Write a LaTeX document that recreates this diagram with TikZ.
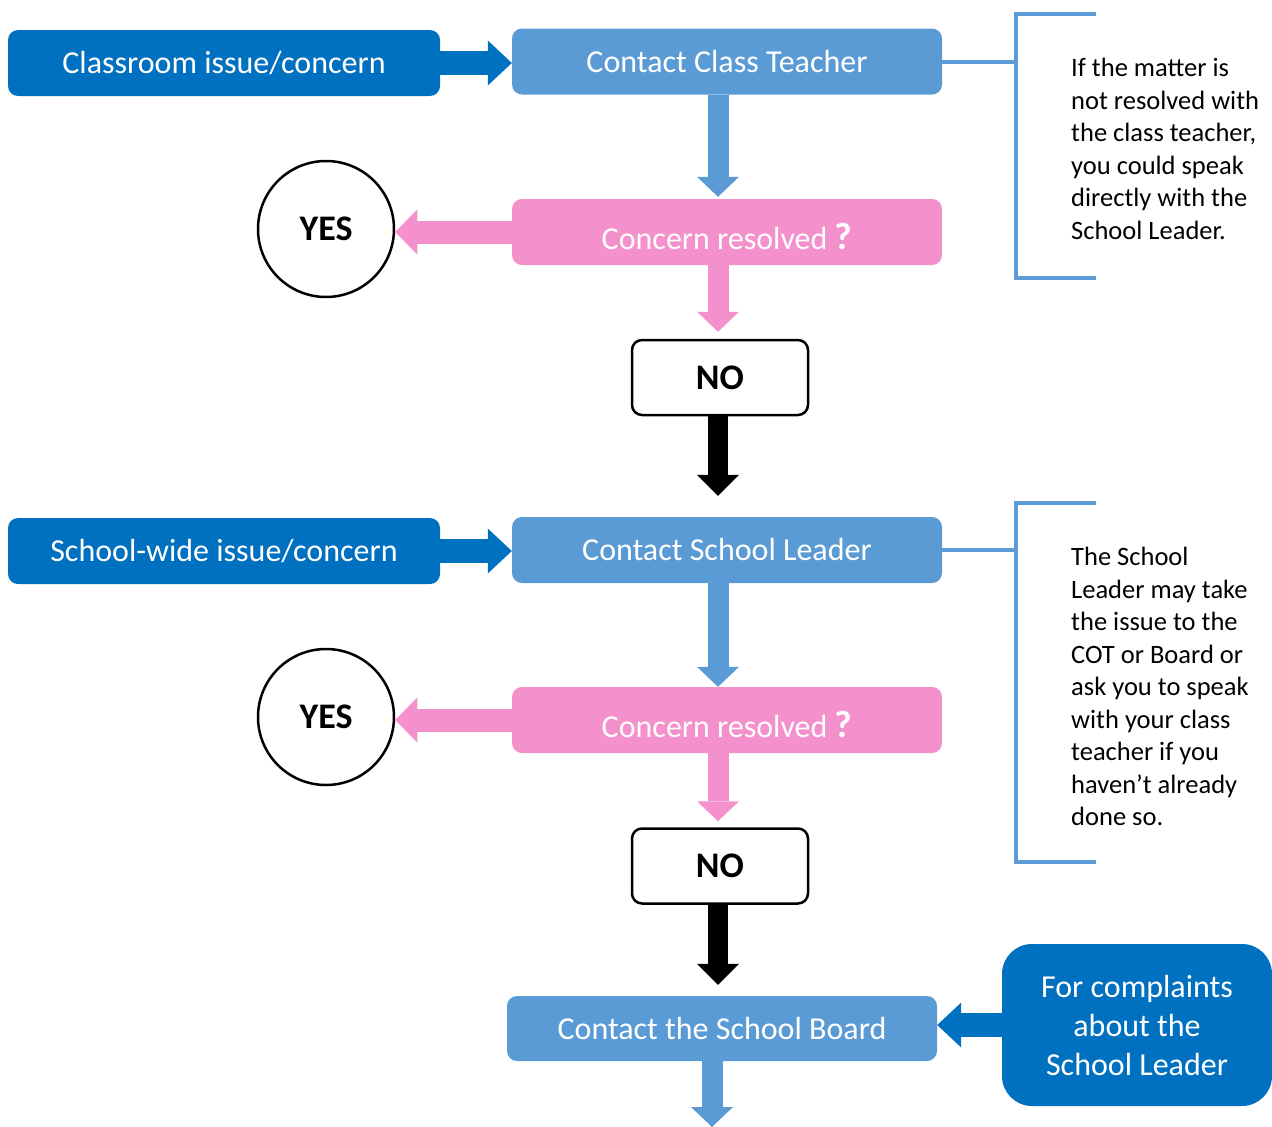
\documentclass[tikz,border=0pt]{standalone}
\usepackage{fontspec}
\setmainfont{Carlito}
\usetikzlibrary{arrows.meta,calc}
\definecolor{dblue}{HTML}{0070C0}
\definecolor{mblue}{HTML}{5B9BD5}
\definecolor{pinkc}{HTML}{F490CC}
\newcommand{\bigq}{{\fontsize{38}{40}\selectfont\bfseries ?}}
\begin{document}
\begin{tikzpicture}[x=1pt,y=-1pt,
  box/.style={rounded corners=10pt, minimum width=430pt, minimum height=66pt, inner sep=0pt, text=white, font=\fontsize{32}{39}\selectfont, align=center},
  darkbox/.style={box, fill=dblue, minimum width=432pt},
  midbox/.style={box, fill=mblue},
  pinkbox/.style={box, fill=pinkc, text height=34pt, text depth=0pt},
  yesnode/.style={circle, draw=black, line width=2.5pt, minimum size=136pt, inner sep=0pt, font=\fontsize{36}{40}\selectfont\bfseries},
  nonode/.style={rounded corners=10pt, draw=black, line width=2.5pt, minimum width=176pt, minimum height=75pt, inner sep=0pt, font=\fontsize{36}{40}\selectfont\bfseries},
  note/.style={align=left, inner sep=0pt, font=\fontsize{26.5}{32.5}\selectfont},
  harrow/.style={draw=dblue, line width=24pt, -{Triangle[length=24pt,width=45pt,line width=0pt]}},
  varrow/.style={draw=mblue, line width=21pt, -{Triangle[length=20pt,width=42pt,line width=0pt]}},
  pharrow/.style={draw=pinkc, line width=23pt, -{Triangle[length=22pt,width=45pt,line width=0pt]}},
  pvarrow/.style={draw=pinkc, line width=21pt, -{Triangle[length=20pt,width=42pt,line width=0pt]}},
  karrow/.style={draw=black, line width=20pt, -{Triangle[length=21pt,width=42pt,line width=0pt]}},
  brk/.style={draw=mblue, line width=4pt}
]
\useasboundingbox (0,0) rectangle (1272,1127);
\coordinate (ax) at (718,0);
\coordinate (ax2) at (712,0);
\coordinate (out) at (712,1127);
\coordinate (bx) at (1016,0);

% nodes
\node[darkbox] (A) at (224,63) {Classroom issue/concern};
\node[midbox] (B) at (727,61.5) {Contact Class Teacher};
\node[pinkbox] (C) at (727,232) {Concern resolved \bigq};
\node[yesnode] (yes1) at (326,229) {YES};
\node[nonode] (no1) at (720,377.5) {NO};
\node[darkbox] (D) at (224,551) {School-wide issue/concern};
\node[midbox] (E) at (727,550) {Contact School Leader};
\node[pinkbox] (F) at (727,720) {Concern resolved \bigq};
\node[yesnode] (yes2) at (326,717) {YES};
\node[nonode] (no2) at (720,866) {NO};
\node[midbox, minimum height=65pt] (G) at (722,1028.5) {Contact the School Board};
\node[box, fill=dblue, rounded corners=30pt, minimum width=270pt, minimum height=162pt] (H) at (1137,1025) {For complaints\\about the\\School Leader};

\node[note, anchor=north west] (n1) at (1071,58) {If the matter is\\not resolved with\\the class teacher,\\you could speak\\directly with the\\School Leader.};
\node[note, anchor=north west] (n2) at (1071,547) {The School\\Leader may take\\the issue to the\\COT or Board or\\ask you to speak\\with your class\\teacher if you\\haven’t already\\done so.};

% arrows
\draw[harrow] (A.east) -- (A.east -| B.west);
\draw[harrow] (D.east) -- (D.east -| E.west);
\draw[varrow, shorten >=2pt] (B.south -| ax) -- (C.north -| ax);
\draw[pharrow] (C.west) -- (C.west -| yes1.east);
\draw[pvarrow, shorten >=7pt] (C.south -| ax) -- (no1.north -| ax);
\draw[karrow, shorten >=21pt] (no1.south -| ax) -- (E.north -| ax);
\draw[varrow] (E.south -| ax) -- (F.north -| ax);
\draw[pharrow] (F.west) -- (F.west -| yes2.east);
\draw[pvarrow, shorten >=6pt] (F.south -| ax) -- (no2.north -| ax);
\draw[karrow, shorten >=11pt] (no2.south -| ax) -- (G.north -| ax);
\draw[varrow] (G.south -| ax2) -- (out);
\draw[harrow] (H.west) -- (H.west -| G.east);

% brackets
\draw[brk] (B.east) -- (B.east -| bx);
\draw[brk] (1096,14) -- (1016,14) -- (1016,278) -- (1096,278);
\draw[brk] (E.east) -- (E.east -| bx);
\draw[brk] (1096,503) -- (1016,503) -- (1016,862) -- (1096,862);
\end{tikzpicture}
\end{document}
